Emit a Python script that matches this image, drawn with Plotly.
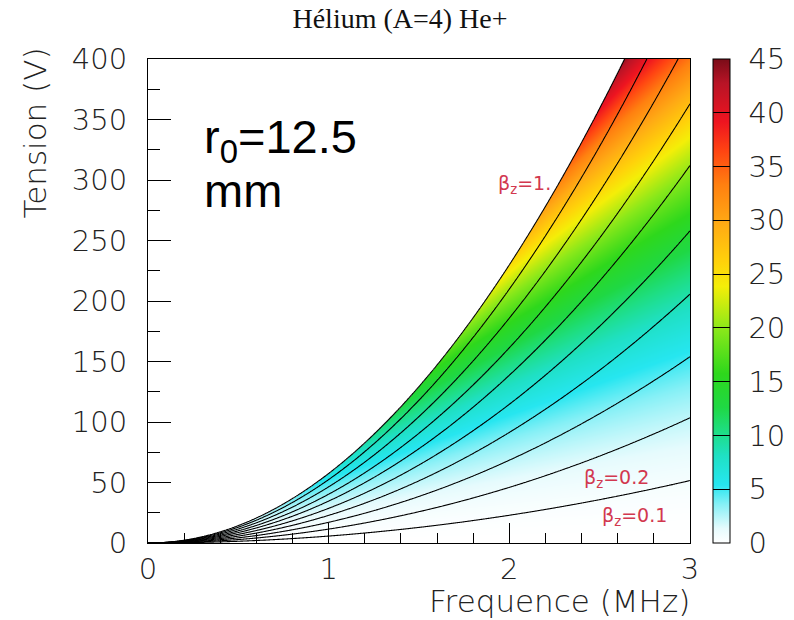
import numpy as np
import plotly.graph_objects as go

# ---- values ----
beta_levels = [0.1, 0.2, 0.3, 0.4, 0.5, 0.6, 0.7, 0.8, 0.9, 1.0]
# voltage (V) where contours 0.1..0.7 reach the right edge f = 3 MHz
v_at_3mhz = [51.6, 103.5, 154.0, 205.7, 258.0, 312.0, 363.0]
# frequency (MHz) where contours 0.8..1.0 reach the top edge V = 400 V
f_at_400v = [2.934, 2.761, 2.638]
depth_corner = 44.0          # colour value at the tip (beta_z = 1, V = 400 V)
depth_ticks = [0, 5, 10, 15, 20, 25, 30, 35, 40, 45]
labels = [("β<sub>z</sub>=1.", 2.24, 296, "right"),
          ("β<sub>z</sub>=0.2", 2.40, 53, "left"),
          ("β<sub>z</sub>=0.1", 2.50, 22, "left")]

# contour coefficients V/f^2 for each level
k_levels = [v / 9.0 for v in v_at_3mhz] + [400.0 / f ** 2 for f in f_at_400v]

f = np.linspace(0.0, 3.0, 542)
V = np.linspace(0.0, 400.0, 485)
F, VV = np.meshgrid(f, V)
r = VV / np.maximum(F, 1e-3) ** 2
beta = np.interp(r, [0.0] + k_levels + [2 * k_levels[-1]], [0.0] + beta_levels + [2.0])
depth = depth_corner / 400.0 * beta * VV
depth = np.where(beta > 1.0, np.nan, depth)

cscale = [
    [0.0, '#ffffff'], [0.03, '#e6fbfd'], [0.08, '#86f0f6'], [0.12, '#26e6f0'],
    [0.18, '#1fe0c4'], [0.23, '#1ede84'], [0.28, '#1fd844'], [0.35, '#2ed81c'],
    [0.44, '#88e81a'], [0.53, '#f4ee08'], [0.58, '#ffd20a'], [0.66, '#ffaa14'],
    [0.74, '#ff8010'], [0.81, '#ff4412'], [0.87, '#ee1420'], [0.95, '#b81426'],
    [1.0, '#7a0c18']]

tickfont = dict(family="DejaVu Sans", size=29, color="#222222", weight=300)
titlefont = dict(family="DejaVu Sans", size=31, color="#222222", weight=300)

fig = go.Figure()
fig.add_trace(go.Heatmap(
    x=f, y=V, z=depth, zmin=0, zmax=45, colorscale=cscale, zsmooth=False,
    hoverinfo='skip',
    colorbar=dict(x=1.0425, xanchor='left', y=0.5, yanchor='middle', len=1,
                  lenmode='fraction', thickness=17, thicknessmode='pixels',
                  outlinecolor='black', outlinewidth=1, xpad=0, ypad=0,
                  tickvals=depth_ticks,
                  ticktext=["\u2009\u2009" + str(t) for t in depth_ticks],
                  ticks='inside', ticklen=17,
                  tickcolor='black', tickwidth=1, tickfont=tickfont)))
fig.add_trace(go.Contour(
    x=f, y=V, z=np.minimum(beta, 2.0), showscale=False, hoverinfo='skip',
    contours=dict(coloring='lines', start=0.1, end=1.0, size=0.1),
    colorscale=[[0, 'black'], [1, 'black']], line=dict(width=1.1, color='black')))

W, H = 794, 620
L, R, T, B = 148, 690, 59, 543
def px(x):
    return (x - L) / (R - L)
def py(y):
    return (B - y) / (B - T)

ann = []
for txt, fx, vy, anc in labels:
    ann.append(dict(x=fx, y=vy, xref='x', yref='y', text=txt, showarrow=False,
                    xanchor=anc, yanchor='middle',
                    font=dict(family="DejaVu Sans", size=19, color="#d2384f")))
ann.append(dict(x=px(202), y=py(140), xref='paper', yref='paper',
                text="r<sub>0</sub>=12.5", showarrow=False, xanchor='left', yanchor='middle',
                font=dict(family="Liberation Sans", size=47, color="black")))
ann.append(dict(x=px(202), y=py(190), xref='paper', yref='paper',
                text="mm", showarrow=False, xanchor='left', yanchor='middle',
                font=dict(family="Liberation Sans", size=47, color="black")))
ann.append(dict(x=px(692), y=py(601), xref='paper', yref='paper',
                text="Frequence (MHz)", showarrow=False, xanchor='right', yanchor='middle',
                font=titlefont))
ann.append(dict(x=px(35), y=py(46), xref='paper', yref='paper', textangle=-90,
                text="Tension (V)", showarrow=False, xanchor='center', yanchor='top',
                font=titlefont))

fig.update_layout(
    width=W, height=H,
    margin=dict(l=L, r=W - R, t=T, b=H - B, autoexpand=False),
    paper_bgcolor='white', plot_bgcolor='white', showlegend=False,
    title=dict(text="Hélium (A=4) He+", x=400 / W, xref='container', xanchor='center',
               y=1 - 18 / H, yref='container', yanchor='middle',
               font=dict(family="Liberation Serif", size=28, color="#111111")),
    annotations=ann,
    xaxis=dict(range=[0, 3], showgrid=False, zeroline=False, showline=True,
               linecolor='black', linewidth=1, mirror=True, ticks='inside',
               ticklen=20, tickcolor='black', tick0=0, dtick=1, tickfont=tickfont,
               minor=dict(ticks='inside', ticklen=10, dtick=0.2, tickcolor='black',
                          showgrid=False)),
    yaxis=dict(range=[0, 400], showgrid=False, zeroline=False, showline=True,
               linecolor='black', linewidth=1, mirror=True, ticks='inside',
               ticklen=23, tickcolor='black', tick0=0, dtick=50, tickfont=tickfont,
               ticklabelstandoff=14,
               minor=dict(ticks='inside', ticklen=12, dtick=25, tickcolor='black',
                          showgrid=False)),
)
fig.write_html("out.html")
